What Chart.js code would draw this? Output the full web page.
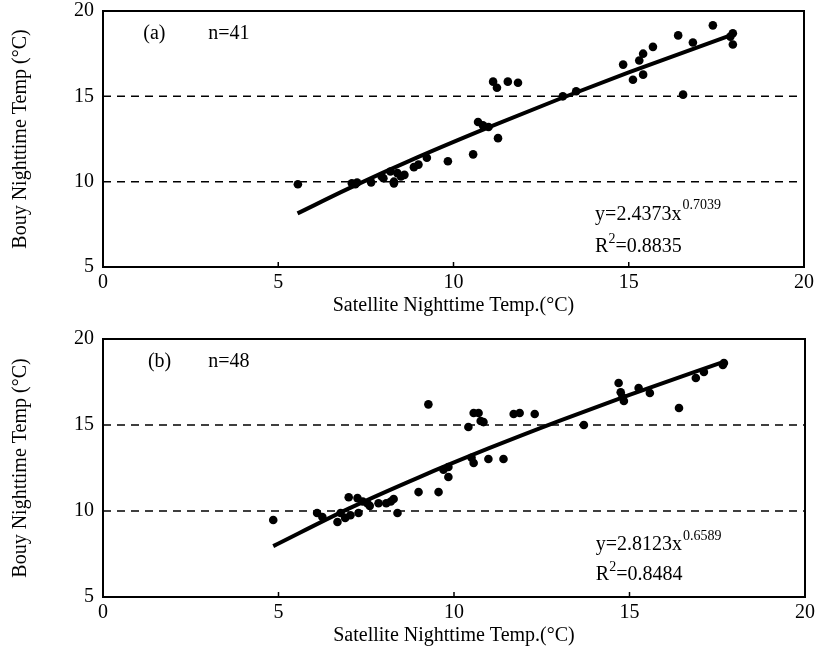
<!DOCTYPE html>
<html>
<head>
<meta charset="utf-8">
<script src="https://cdn.jsdelivr.net/npm/chart.js@4/dist/chart.umd.min.js"></script>
<style>
  body { margin: 0; background: #fff; }
  canvas { position: absolute; left: 0; }
</style>
</head>
<body>
<canvas id="chartA" width="819" height="325" style="top:0px"></canvas>
<canvas id="chartB" width="819" height="330" style="top:325px"></canvas>
<script>
// panel (a), n=41
const satA = [5.56, 7.1, 7.2, 7.25, 7.65, 7.95, 8.0, 8.2, 8.3, 8.3, 8.4, 8.5, 8.6, 8.87, 9.0, 9.24, 9.84,
  10.56, 10.7, 10.84, 11.0, 11.27, 11.13, 11.24, 11.55, 11.84, 13.12, 13.5, 14.84, 15.12, 15.3, 15.41,
  15.41, 15.69, 16.41, 16.55, 16.83, 17.4, 17.9, 17.97, 17.97];
const buoyA = [9.85, 9.9, 9.85, 9.95, 9.96, 10.3, 10.2, 10.6, 9.9, 10.0, 10.5, 10.3, 10.4, 10.85, 11.0, 11.4, 11.2,
  11.6, 13.5, 13.3, 13.2, 12.55, 15.86, 15.5, 15.86, 15.8, 15.0, 15.3, 16.86, 15.97, 17.1, 16.27,
  17.5, 17.9, 18.57, 15.1, 18.15, 19.16, 18.5, 18.7, 18.04];
const fitXA = [5.55, 7, 9, 11, 13, 15, 18];
const fitYA = [8.14, 9.59, 11.45, 13.18, 14.83, 16.40, 18.64];

// panel (b), n=48
const satB = [4.85, 6.1, 6.25, 6.68, 6.77, 6.9, 7.0, 7.05, 7.25, 7.28, 7.4, 7.53, 7.6, 7.85, 8.07, 8.2, 8.28, 8.39,
  8.99, 9.56, 9.7, 9.84, 9.84, 9.27, 10.41, 10.56, 10.7, 10.76, 10.84, 11.7, 11.87, 12.3, 13.7,
  10.5, 10.56, 10.98, 11.41, 14.69, 14.75, 14.84, 14.8, 15.26, 15.58, 16.41, 16.89, 17.12, 17.69, 17.66];
const buoyB = [9.48, 9.88, 9.65, 9.36, 9.88, 9.6, 10.8, 9.75, 10.75, 9.88, 10.55, 10.45, 10.3, 10.45, 10.45, 10.55, 10.7, 9.88,
  11.1, 11.1, 12.4, 11.98, 12.56, 16.2, 14.88, 15.7, 15.7, 15.23, 15.17, 15.64, 15.7, 15.64, 15.0,
  13.1, 12.79, 13.02, 13.02, 17.44, 16.9, 16.4, 16.63, 17.15, 16.86, 15.99, 17.73, 18.08, 18.6, 18.49];
const fitXB = [4.85, 7, 9, 11, 13, 15, 17.7];
const fitYB = [7.96, 10.14, 11.96, 13.65, 15.24, 16.75, 18.68];

const xTicks = [0, 5, 10, 15, 20];
const yTicks = [5, 10, 15, 20];
const refLines = [10, 15];

const FONT = "'Liberation Serif', 'Times New Roman', serif";
Chart.defaults.color = '#000';
Chart.defaults.font.family = FONT;
Chart.defaults.font.size = 20;

// frame, dashed reference lines, inward ticks, annotations
const decor = {
  id: 'decor',
  beforeDatasetsDraw(chart) {
    const { ctx, chartArea: a, scales: { x, y } } = chart;
    ctx.save();
    ctx.strokeStyle = '#000';
    ctx.lineWidth = 1.5;
    ctx.setLineDash([8, 6]);
    refLines.forEach(v => {
      const py = y.getPixelForValue(v);
      ctx.beginPath(); ctx.moveTo(a.left, py); ctx.lineTo(a.right, py); ctx.stroke();
    });
    ctx.setLineDash([]);
    ctx.lineWidth = 2;
    ctx.strokeRect(a.left, a.top, a.right - a.left, a.bottom - a.top);
    ctx.lineWidth = 1.5;
    xTicks.slice(1, -1).forEach(v => {
      const px = x.getPixelForValue(v);
      ctx.beginPath(); ctx.moveTo(px, a.bottom); ctx.lineTo(px, a.bottom - 5); ctx.stroke();
    });
    ctx.restore();
  },
  afterDraw(chart) {
    const o = chart.options.plugins.decor;
    const { ctx, scales: { x, y } } = chart;
    ctx.save();
    ctx.fillStyle = '#000';
    ctx.textBaseline = 'middle';
    ctx.textAlign = 'left';
    ctx.font = '20px ' + FONT;
    ctx.fillText(o.tag, x.getPixelForValue(o.tagX), y.getPixelForValue(o.tagY));
    ctx.fillText(o.n, x.getPixelForValue(o.nX), y.getPixelForValue(o.tagY));
    let px = x.getPixelForValue(o.eqX);
    let py = y.getPixelForValue(o.eqY);
    ctx.fillText(o.eq, px, py);
    let w = ctx.measureText(o.eq).width;
    ctx.font = '14px ' + FONT;
    ctx.fillText(o.pow, px + w + 1, py - 9);
    py = y.getPixelForValue(o.r2Y);
    ctx.font = '20px ' + FONT;
    ctx.fillText('R', px, py);
    w = ctx.measureText('R').width;
    ctx.font = '14px ' + FONT;
    ctx.fillText('2', px + w, py - 8);
    const w2 = ctx.measureText('2').width;
    ctx.font = '20px ' + FONT;
    ctx.fillText(o.r2, px + w + w2, py);
    ctx.restore();
  }
};

function noPad(s) {
  s.paddingTop = 0; s.paddingBottom = 0; s.paddingLeft = 0; s.paddingRight = 0;
}

function makeChart(id, sat, buoy, fitX, fitY, pad, decorOpts) {
  return new Chart(document.getElementById(id), {
    type: 'scatter',
    data: {
      datasets: [
        {
          data: sat.map((v, i) => ({ x: v, y: buoy[i] })),
          backgroundColor: '#000', borderColor: '#000',
          pointRadius: 4.3, pointBorderWidth: 0
        },
        {
          type: 'line',
          data: fitX.map((v, i) => ({ x: v, y: fitY[i] })),
          borderColor: '#000', borderWidth: 4, pointRadius: 0,
          cubicInterpolationMode: 'monotone', fill: false
        }
      ]
    },
    options: {
      responsive: false,
      animation: false,
      layout: { padding: pad },
      plugins: { legend: { display: false }, tooltip: { enabled: false }, decor: decorOpts },
      scales: {
        x: {
          type: 'linear', min: 0, max: 20,
          afterBuildTicks: s => { s.ticks = xTicks.map(v => ({ value: v })); },
          afterFit: s => { s.height = 58; noPad(s); },
          grid: { display: false, drawTicks: false },
          border: { display: false },
          ticks: { padding: 4, font: { size: 20 } },
          title: { display: true, text: 'Satellite Nighttime Temp.(°C)', font: { size: 20 }, padding: { bottom: 7, top: 0 } }
        },
        y: {
          type: 'linear', min: 5, max: 20,
          afterBuildTicks: s => { s.ticks = yTicks.map(v => ({ value: v })); },
          afterFit: s => { s.width = 103; noPad(s); },
          grid: { display: false, drawTicks: false },
          border: { display: false },
          ticks: { padding: 9, font: { size: 20 } },
          title: { display: true, text: 'Bouy Nighttime Temp (°C)', font: { size: 20 }, padding: { top: 9, bottom: 0 } }
        }
      }
    },
    plugins: [decor]
  });
}

makeChart('chartA', satA, buoyA, fitXA, fitYA, { top: 11, right: 15, left: 0, bottom: 0 },
  { tag: '(a)', tagX: 1.15, tagY: 18.69, n: 'n=41', nX: 3.0, eq: 'y=2.4373x', pow: '0.7039', eqX: 14.04, eqY: 8.07, r2: '=0.8835', r2Y: 6.18 });
makeChart('chartB', satB, buoyB, fitXB, fitYB, { top: 14, right: 14, left: 0, bottom: 0 },
  { tag: '(b)', tagX: 1.28, tagY: 18.66, n: 'n=48', nX: 3.0, eq: 'y=2.8123x', pow: '0.6589', eqX: 14.04, eqY: 8.02, r2: '=0.8484', r2Y: 6.28 });
</script>
</body>
</html>
